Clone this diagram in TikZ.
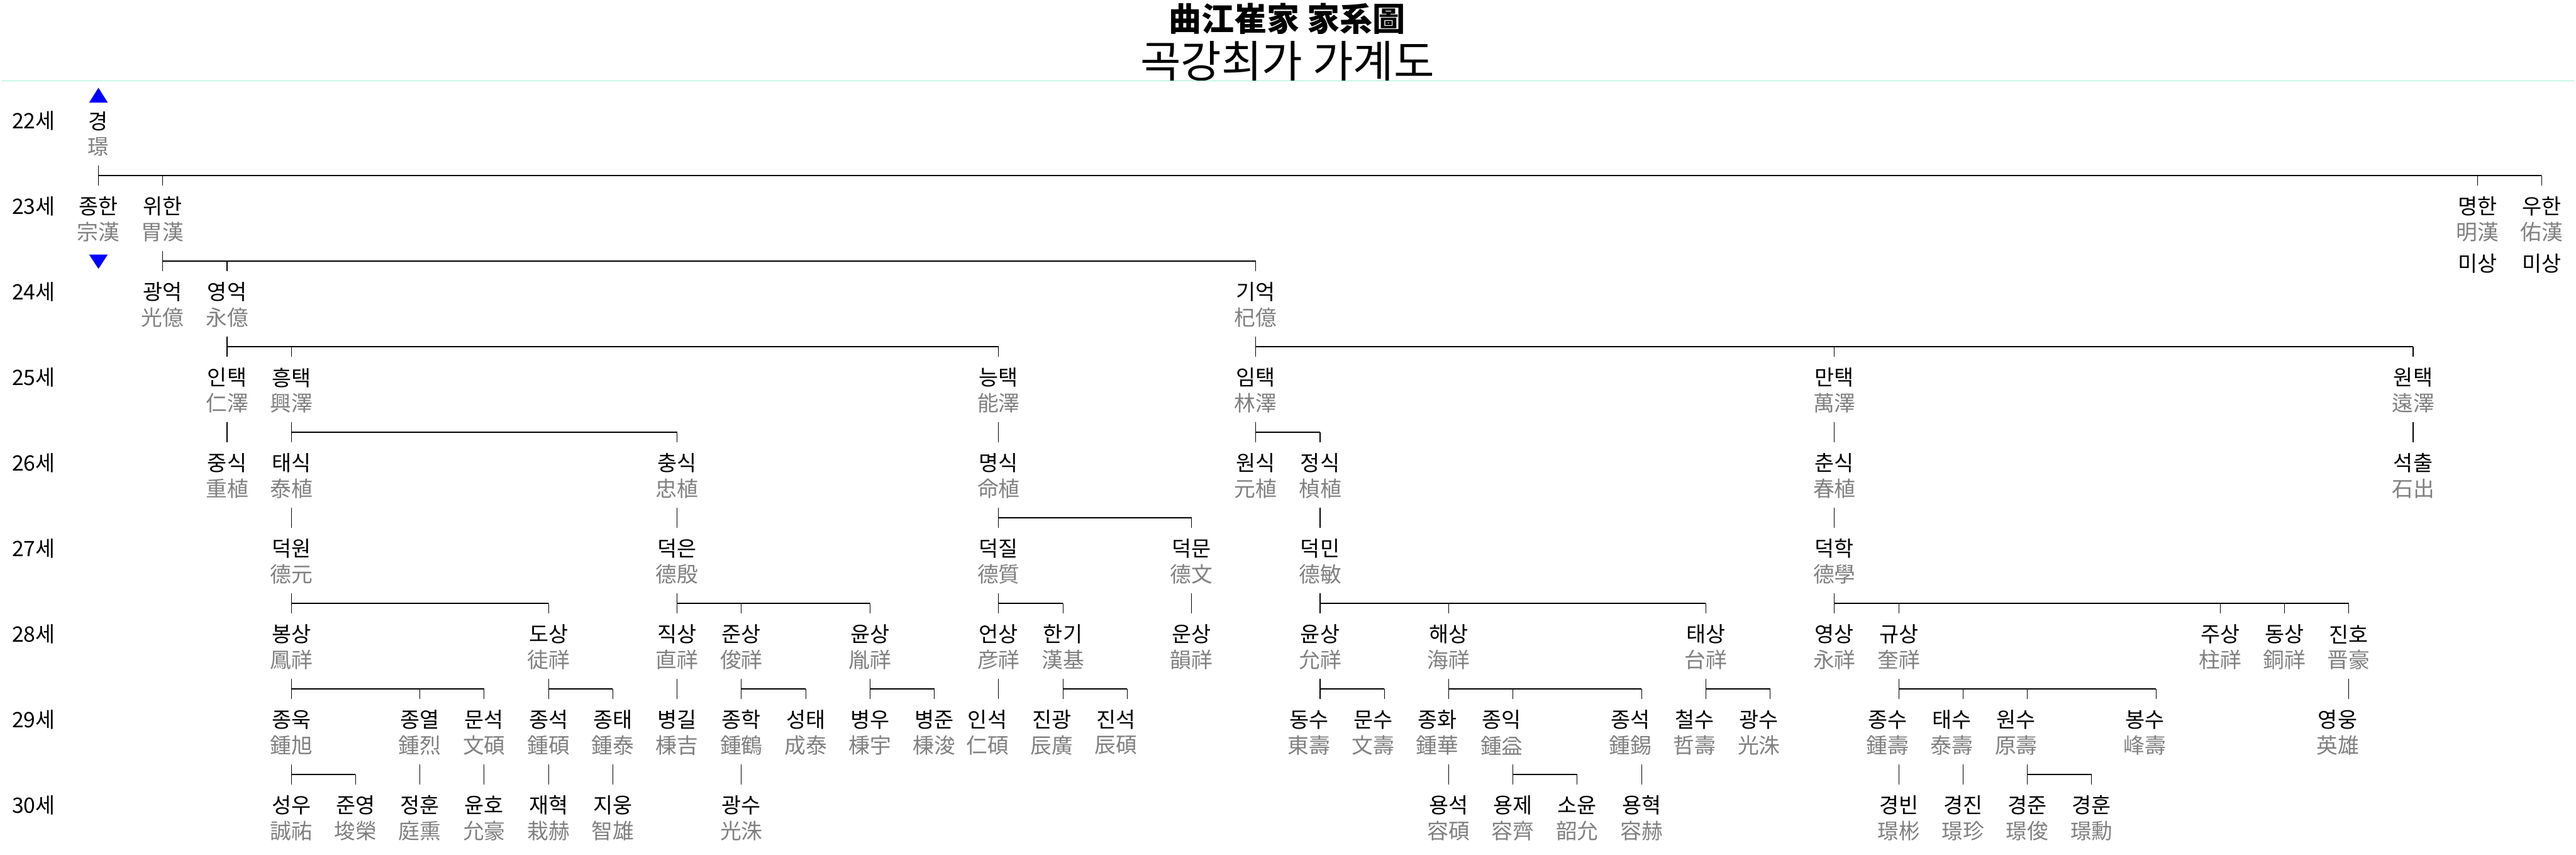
\documentclass[tikz,border=0pt]{standalone}
\usepackage{fontspec}
\setmainfont{Noto Sans CJK KR}
\usepackage{tikz}
\usetikzlibrary{calc}
\definecolor{hanja}{HTML}{808080}
\definecolor{mint}{HTML}{9CF2D2}
\definecolor{marker}{HTML}{0000FF}
\tikzset{
    hangul/.style={inner sep=0pt, minimum height=8.8mm, font=\fontsize{13}{15}\selectfont},
    hanjaname/.style={inner sep=0pt, minimum height=8mm, text=hanja, font=\fontsize{13}{15}\selectfont},
    gen/.style={anchor=west, inner sep=0pt, font=\fontsize{13}{15}\selectfont},
    lag/.style={execute at end node={\hspace{4.8mm}}},
    kinline/.style={line width=0.4pt},
    kinbar/.style={line width=0.75pt}
}
% person: [style]{id}{column}{row}{hangul}{hanja}
\newcommand{\person}[6][]{%
    \node[hangul,#1] (#2) at ({2.116+1.382*#3},{-2.60-1.838*#4}) {#5};
    \node[hanjaname,#1] (#2-h) at ({2.116+1.382*#3},{-3.15-1.838*#4}) {#6};}
\newcommand{\heir}[2]{\draw[kinline] (#1-h.south) -- (#2.north);}
\newcommand{\brood}[3]{%
    \heir{#1}{#2}
    \coordinate (#1-bar) at ($(#1-h.south)!.5!(#2.north)$);
    \foreach \kid in {#3}{
        \draw[kinbar] (#1-bar) -- (#1-bar -| \kid.north);
        \draw[kinline] (\kid.north) -- (\kid.north |- #1-bar);
    }}

\begin{document}
\begin{tikzpicture}
    \useasboundingbox (0,0) rectangle (55.37,-18.37);
    \node[font=\fontsize{20}{24}\selectfont\bfseries] (title) at (27.67,-0.40) {曲江崔家 家系圖};
    \node[font=\fontsize{27}{32}\selectfont] (subtitle) at (27.67,-1.31) {곡강최가 가계도};
    \draw[mint, line width=0.5pt] (0.04,-1.735) -- (55.33,-1.735);
    \foreach \r in {0,...,8}{
        \pgfmathtruncatemacro{\g}{22+\r}
        \node[gen] (gen\g) at (0.25,{-2.60-1.838*\r}) {\g{}세};
    }
    \fill[marker] (1.916,-2.204) -- (2.316,-2.204) -- (2.116,-1.886) -- cycle;
    \fill[marker] (1.916,-5.47) -- (2.316,-5.47) -- (2.116,-5.776) -- cycle;

    % 22
    \person{gyeong}{0}{0}{경}{璟}
    % 23
    \person{jonghan}{0}{1}{종한}{宗漢}
    \person{wihan}{1}{1}{위한}{胃漢}
    \person{myeonghan}{37}{1}{명한}{明漢}
    \person{uhan}{38}{1}{우한}{佑漢}
    \node[hangul] (myeonghan-m) at ({2.116+1.382*37},-5.66) {미상};
    \node[hangul] (uhan-m) at ({2.116+1.382*38},-5.66) {미상};
    % 24
    \person{gwangeok}{1}{2}{광억}{光億}
    \person{yeongeok}{2}{2}{영억}{永億}
    \person{gieok}{18}{2}{기억}{杞億}
    % 25
    \person{intaek}{2}{3}{인택}{仁澤}
    \person{heungtaek}{3}{3}{흥택}{興澤}
    \person{neungtaek}{14}{3}{능택}{能澤}
    \person{imtaek}{18}{3}{임택}{林澤}
    \person{mantaek}{27}{3}{만택}{萬澤}
    \person{wontaek}{36}{3}{원택}{遠澤}
    % 26
    \person{jungsik}{2}{4}{중식}{重植}
    \person{taesik}{3}{4}{태식}{泰植}
    \person{chungsik}{9}{4}{충식}{忠植}
    \person{myeongsik}{14}{4}{명식}{命植}
    \person{wonsik}{18}{4}{원식}{元植}
    \person{jeongsik}{19}{4}{정식}{楨植}
    \person{chunsik}{27}{4}{춘식}{春植}
    \person{seokchul}{36}{4}{석출}{石出}
    % 27
    \person{deokwon}{3}{5}{덕원}{德元}
    \person{deokeun}{9}{5}{덕은}{德殷}
    \person{deokjil}{14}{5}{덕질}{德質}
    \person{deokmun}{17}{5}{덕문}{德文}
    \person{deokmin}{19}{5}{덕민}{德敏}
    \person{deokhak}{27}{5}{덕학}{德學}
    % 28
    \person{bongsang}{3}{6}{봉상}{鳳祥}
    \person{dosang}{7}{6}{도상}{徒祥}
    \person{jiksang}{9}{6}{직상}{直祥}
    \person{junsang}{10}{6}{준상}{俊祥}
    \person{yunsangA}{12}{6}{윤상}{胤祥}
    \person{eonsang}{14}{6}{언상}{彦祥}
    \person{hangi}{15}{6}{한기}{漢基}
    \person{unsang}{17}{6}{운상}{韻祥}
    \person{yunsangB}{19}{6}{윤상}{允祥}
    \person{haesang}{21}{6}{해상}{海祥}
    \person{taesang}{25}{6}{태상}{台祥}
    \person{yeongsang}{27}{6}{영상}{永祥}
    \person{gyusang}{28}{6}{규상}{奎祥}
    \person{jusang}{33}{6}{주상}{柱祥}
    \person{dongsang}{34}{6}{동상}{銅祥}
    \person{jinho}{35}{6}{진호}{晋豪}
    % 29
    \person{jonguk}{3}{7}{종욱}{鍾旭}
    \person{jongyeol}{5}{7}{종열}{鍾烈}
    \person{munseok}{6}{7}{문석}{文碩}
    \person{jongseokA}{7}{7}{종석}{鍾碩}
    \person{jongtae}{8}{7}{종태}{鍾泰}
    \person{byeonggil}{9}{7}{병길}{棅吉}
    \person{jonghak}{10}{7}{종학}{鍾鶴}
    \person{seongtae}{11}{7}{성태}{成泰}
    \person{byeongu}{12}{7}{병우}{棅宇}
    \person{byeongjun}{13}{7}{병준}{棅浚}
    \person[lag]{inseok}{14}{7}{인석}{仁碩}
    \person[lag]{jingwang}{15}{7}{진광}{辰廣}
    \person[lag]{jinseok}{16}{7}{진석}{辰碩}
    \person[lag]{dongsu}{19}{7}{동수}{東壽}
    \person[lag]{munsu}{20}{7}{문수}{文壽}
    \person[lag]{jonghwa}{21}{7}{종화}{鍾華}
    \person[lag]{jongik}{22}{7}{종익}{鍾益}
    \person[lag]{jongseokB}{24}{7}{종석}{鍾錫}
    \person[lag]{cheolsu}{25}{7}{철수}{哲壽}
    \person[lag]{gwangsuA}{26}{7}{광수}{光洙}
    \person[lag]{jongsu}{28}{7}{종수}{鍾壽}
    \person[lag]{taesu}{29}{7}{태수}{泰壽}
    \person[lag]{wonsu}{30}{7}{원수}{原壽}
    \person[lag]{bongsu}{32}{7}{봉수}{峰壽}
    \person[lag]{yeongung}{35}{7}{영웅}{英雄}
    % 30
    \person{seongu}{3}{8}{성우}{誠祐}
    \person{junyeong}{4}{8}{준영}{埈榮}
    \person{jeonghun}{5}{8}{정훈}{庭熏}
    \person{yunho}{6}{8}{윤호}{允豪}
    \person{jaehyeok}{7}{8}{재혁}{栽赫}
    \person{jiung}{8}{8}{지웅}{智雄}
    \person{gwangsuB}{10}{8}{광수}{光洙}
    \person{yongseok}{21}{8}{용석}{容碩}
    \person{yongje}{22}{8}{용제}{容齊}
    \person{soyun}{23}{8}{소윤}{韶允}
    \person{yonghyeok}{24}{8}{용혁}{容赫}
    \person{gyeongbin}{28}{8}{경빈}{璟彬}
    \person{gyeongjin}{29}{8}{경진}{璟珍}
    \person{gyeongjun}{30}{8}{경준}{璟俊}
    \person{gyeonghun}{31}{8}{경훈}{璟勳}

    \brood{gyeong}{jonghan}{wihan,myeonghan,uhan}
    \brood{wihan}{gwangeok}{yeongeok,gieok}
    \brood{yeongeok}{intaek}{heungtaek,neungtaek}
    \brood{gieok}{imtaek}{mantaek,wontaek}
    \heir{intaek}{jungsik}
    \brood{heungtaek}{taesik}{chungsik}
    \heir{neungtaek}{myeongsik}
    \brood{imtaek}{wonsik}{jeongsik}
    \heir{mantaek}{chunsik}
    \heir{wontaek}{seokchul}
    \heir{taesik}{deokwon}
    \heir{chungsik}{deokeun}
    \brood{myeongsik}{deokjil}{deokmun}
    \heir{jeongsik}{deokmin}
    \heir{chunsik}{deokhak}
    \brood{deokwon}{bongsang}{dosang}
    \brood{deokeun}{jiksang}{junsang,yunsangA}
    \brood{deokjil}{eonsang}{hangi}
    \heir{deokmun}{unsang}
    \brood{deokmin}{yunsangB}{haesang,taesang}
    \brood{deokhak}{yeongsang}{gyusang,jusang,dongsang,jinho}
    \brood{bongsang}{jonguk}{jongyeol,munseok}
    \brood{dosang}{jongseokA}{jongtae}
    \heir{jiksang}{byeonggil}
    \brood{junsang}{jonghak}{seongtae}
    \brood{yunsangA}{byeongu}{byeongjun}
    \heir{eonsang}{inseok}
    \brood{hangi}{jingwang}{jinseok}
    \brood{yunsangB}{dongsu}{munsu}
    \brood{haesang}{jonghwa}{jongik,jongseokB}
    \brood{taesang}{cheolsu}{gwangsuA}
    \brood{gyusang}{jongsu}{taesu,wonsu,bongsu}
    \heir{jinho}{yeongung}
    \brood{jonguk}{seongu}{junyeong}
    \heir{jongyeol}{jeonghun}
    \heir{munseok}{yunho}
    \heir{jongseokA}{jaehyeok}
    \heir{jongtae}{jiung}
    \heir{jonghak}{gwangsuB}
    \heir{jonghwa}{yongseok}
    \brood{jongik}{yongje}{soyun}
    \heir{jongseokB}{yonghyeok}
    \heir{jongsu}{gyeongbin}
    \heir{taesu}{gyeongjin}
    \brood{wonsu}{gyeongjun}{gyeonghun}
\end{tikzpicture}
\end{document}
